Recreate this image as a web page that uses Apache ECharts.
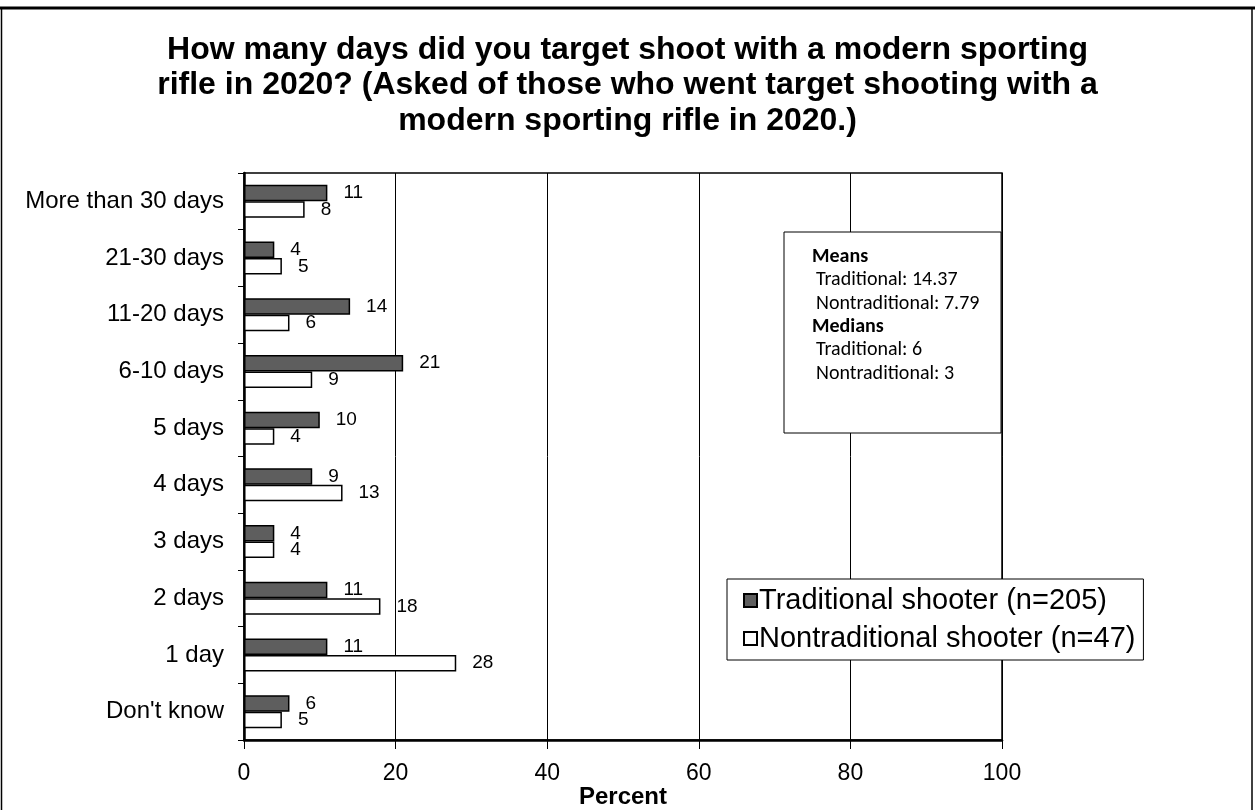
<!DOCTYPE html>
<html>
<head>
<meta charset="utf-8">
<title>Days of target shooting with a modern sporting rifle, 2020</title>
<script src="https://cdn.jsdelivr.net/npm/echarts@6/dist/echarts.min.js"></script>
<style>
  html, body { margin: 0; padding: 0; background: #fff; }
  #chart { width: 1255px; height: 810px; }
</style>
</head>
<body>
<div id="chart"></div>
<script>
// Response categories, top to bottom
const categories = [
  'More than 30 days', '21-30 days', '11-20 days', '6-10 days', '5 days',
  '4 days', '3 days', '2 days', '1 day', "Don't know"
];
// Percent of respondents in each group
const traditional = [11, 4, 14, 21, 10, 9, 4, 11, 11, 6];
const nontraditional = [8, 5, 6, 9, 4, 13, 4, 18, 28, 5];
const seriesNames = ['Traditional shooter (n=205)', 'Nontraditional shooter (n=47)'];
const xTicks = [0, 20, 40, 60, 80, 100];
// Summary statistics shown in the inset box
const statsLines = [
  ['Means', true], ['Traditional: 14.37', false], ['Nontraditional: 7.79', false],
  ['Medians', true], ['Traditional: 6', false], ['Nontraditional: 3', false]
];

const FONT = '"Liberation Sans", Arial, sans-serif';
const chart = echarts.init(document.getElementById('chart'), null, { renderer: 'canvas' });

const labelStyle = {
  show: true,
  position: 'right',
  distance: 16,
  fontFamily: FONT,
  fontSize: 19,
  color: '#000'
};

const statsText = statsLines.map(([t, bold], i) => ({
  type: 'text',
  x: bold ? 812 : 816,
  y: 257 + i * 23.3,
  z: 11,
  style: {
    text: t,
    fontFamily: 'Carlito, Lato, "Open Sans", sans-serif',
    fontSize: 20,
    fontWeight: bold ? 'bold' : 'normal',
    fill: '#000',
    verticalAlign: 'middle'
  }
}));

chart.setOption({
  animation: false,
  backgroundColor: '#fff',
  title: {
    text: 'How many days did you target shoot with a modern sporting\nrifle in 2020? (Asked of those who went target shooting with a\nmodern sporting rifle in 2020.)',
    left: 'center',
    top: 27,
    textStyle: {
      fontFamily: FONT,
      fontSize: 32,
      fontWeight: 'bold',
      lineHeight: 35.5,
      color: '#000',
      align: 'center'
    }
  },
  legend: {
    orient: 'vertical',
    left: 727,
    top: 579,
    width: 413,
    padding: [7, 8, 7, 16],
    itemGap: 9,
    itemWidth: 13,
    itemHeight: 13,
    icon: 'rect',
    backgroundColor: '#fff',
    borderColor: '#000',
    borderWidth: 1,
    textStyle: { fontFamily: FONT, fontSize: 29, color: '#000', padding: [0, 0, 0, -3] },
    data: seriesNames
  },
  grid: {
    left: 244,
    right: 253,
    top: 173,
    bottom: 70,
    containLabel: false,
    outerBoundsMode: 'none',
    show: true,
    borderColor: '#000',
    borderWidth: 1.5,
    backgroundColor: 'transparent'
  },
  xAxis: {
    type: 'value',
    min: xTicks[0],
    max: xTicks[xTicks.length - 1],
    interval: xTicks[1] - xTicks[0],
    name: 'Percent',
    nameLocation: 'middle',
    nameGap: 45,
    nameMoveOverlap: false,
    nameTextStyle: { fontFamily: FONT, fontSize: 24, fontWeight: 'bold', color: '#000' },
    axisLine: { show: true, lineStyle: { color: '#000', width: 2.5 } },
    axisTick: { show: true, length: 9, lineStyle: { color: '#000', width: 1 } },
    axisLabel: { fontFamily: FONT, fontSize: 23, color: '#000', margin: 22 },
    splitLine: { show: true, lineStyle: { color: '#000', width: 1 } }
  },
  yAxis: {
    type: 'category',
    inverse: true,
    data: categories,
    axisLine: { show: true, lineStyle: { color: '#000', width: 2.5 } },
    axisTick: { show: true, length: 6, lineStyle: { color: '#000', width: 1 } },
    axisLabel: { fontFamily: FONT, fontSize: 24, color: '#000', margin: 20 },
    splitLine: { show: false }
  },
  series: [
    {
      name: seriesNames[0],
      type: 'bar',
      data: traditional,
      barWidth: 16.5,
      barGap: '0%',
      itemStyle: { color: '#5e5e5e', borderColor: '#000', borderWidth: 1.5 },
      label: labelStyle
    },
    {
      name: seriesNames[1],
      type: 'bar',
      data: nontraditional,
      barWidth: 16.5,
      barGap: '0%',
      itemStyle: { color: '#fff', borderColor: '#000', borderWidth: 1.5 },
      label: labelStyle
    }
  ],
  graphic: [
    // outer frame of the figure
    { type: 'line', shape: { x1: 0, y1: 8, x2: 1255, y2: 8 }, style: { stroke: '#000', lineWidth: 3 } },
    { type: 'line', shape: { x1: 1.5, y1: 8, x2: 1.5, y2: 810 }, style: { stroke: '#000', lineWidth: 1.5 } },
    { type: 'line', shape: { x1: 1252, y1: 8, x2: 1252, y2: 810 }, style: { stroke: '#000', lineWidth: 1.5 } },
    // inset box with means and medians
    {
      type: 'rect',
      shape: { x: 784, y: 232, width: 217, height: 201 },
      style: { fill: '#fff', stroke: '#000', lineWidth: 1 },
      z: 10
    },
    ...statsText
  ]
});
</script>
</body>
</html>
